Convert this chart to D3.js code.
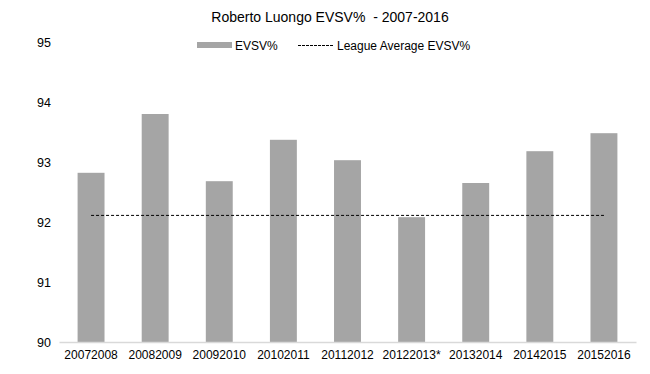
<!DOCTYPE html>
<html><head><meta charset="utf-8">
<script src="https://cdn.jsdelivr.net/npm/d3@7"></script>
<style>body{margin:0;background:#fff}svg{display:block;font-family:"Liberation Sans",Arial,sans-serif}</style>
</head><body>
<script>
const categories = ["20072008","20082009","20092010","20102011","20112012","20122013*","20132014","20142015","20152016"];
const evsv = [92.82,93.80,92.68,93.37,93.03,92.08,92.65,93.18,93.48];
const leagueAvg = [92.11,92.11,92.11,92.11,92.11,92.11,92.11,92.11,92.11];
const yTicks = [90,91,92,93,94,95];

const W=650,H=374;
const svg=d3.select("body").append("svg").attr("width",W).attr("height",H);
const x=d3.scaleBand().domain(categories).range([59,636]).paddingInner(0.58).paddingOuter(0.29);
const y=d3.scaleLinear().domain([90,95]).range([342,42]);

svg.append("text").attr("x",330).attr("y",22).attr("text-anchor","middle")
  .attr("font-size",14).attr("fill","#000").style("white-space","pre")
  .text("Roberto Luongo EVSV%  - 2007-2016");

// legend
svg.append("rect").attr("x",197).attr("y",42).attr("width",35).attr("height",6).attr("fill","#a5a5a5");
svg.append("text").attr("x",235).attr("y",49.5).attr("font-size",12).attr("fill","#000").text("EVSV%");
svg.append("line").attr("x1",298).attr("x2",334).attr("y1",45.5).attr("y2",45.5)
  .attr("stroke","#000").attr("stroke-width",1).attr("stroke-dasharray","3,1");
svg.append("text").attr("x",337).attr("y",49.5).attr("font-size",12).attr("fill","#000").text("League Average EVSV%");

// y axis labels
const ya=svg.append("g").attr("transform","translate(51,0)")
  .call(d3.axisLeft(y).tickValues(yTicks).tickSize(0).tickPadding(0).tickFormat(d3.format("d")));
ya.select(".domain").remove();
ya.selectAll("text").attr("font-size",12.5).attr("fill","#000").attr("font-family","Liberation Sans, Arial, sans-serif");

// bars
svg.append("g").selectAll("rect").data(categories).join("rect")
  .attr("x",d=>x(d)).attr("width",x.bandwidth())
  .attr("y",(d,i)=>y(evsv[i])).attr("height",(d,i)=>y(90)-y(evsv[i]))
  .attr("fill","#a5a5a5");

// x axis
const xa=svg.append("g").attr("transform","translate(0,342)")
  .call(d3.axisBottom(x).tickSize(0).tickPadding(8));
xa.select(".domain").attr("stroke","#d9d9d9").attr("stroke-width",1.5);
xa.selectAll("text").attr("font-size",12).attr("fill","#000").attr("font-family","Liberation Sans, Arial, sans-serif");

// league average line
const line=d3.line().x((d,i)=>x(categories[i])+x.bandwidth()/2).y(d=>y(d));
svg.append("path").datum(leagueAvg).attr("d",line).attr("fill","none")
  .attr("stroke","#000").attr("stroke-width",1).attr("stroke-dasharray","3,2");
</script>
</body></html>
